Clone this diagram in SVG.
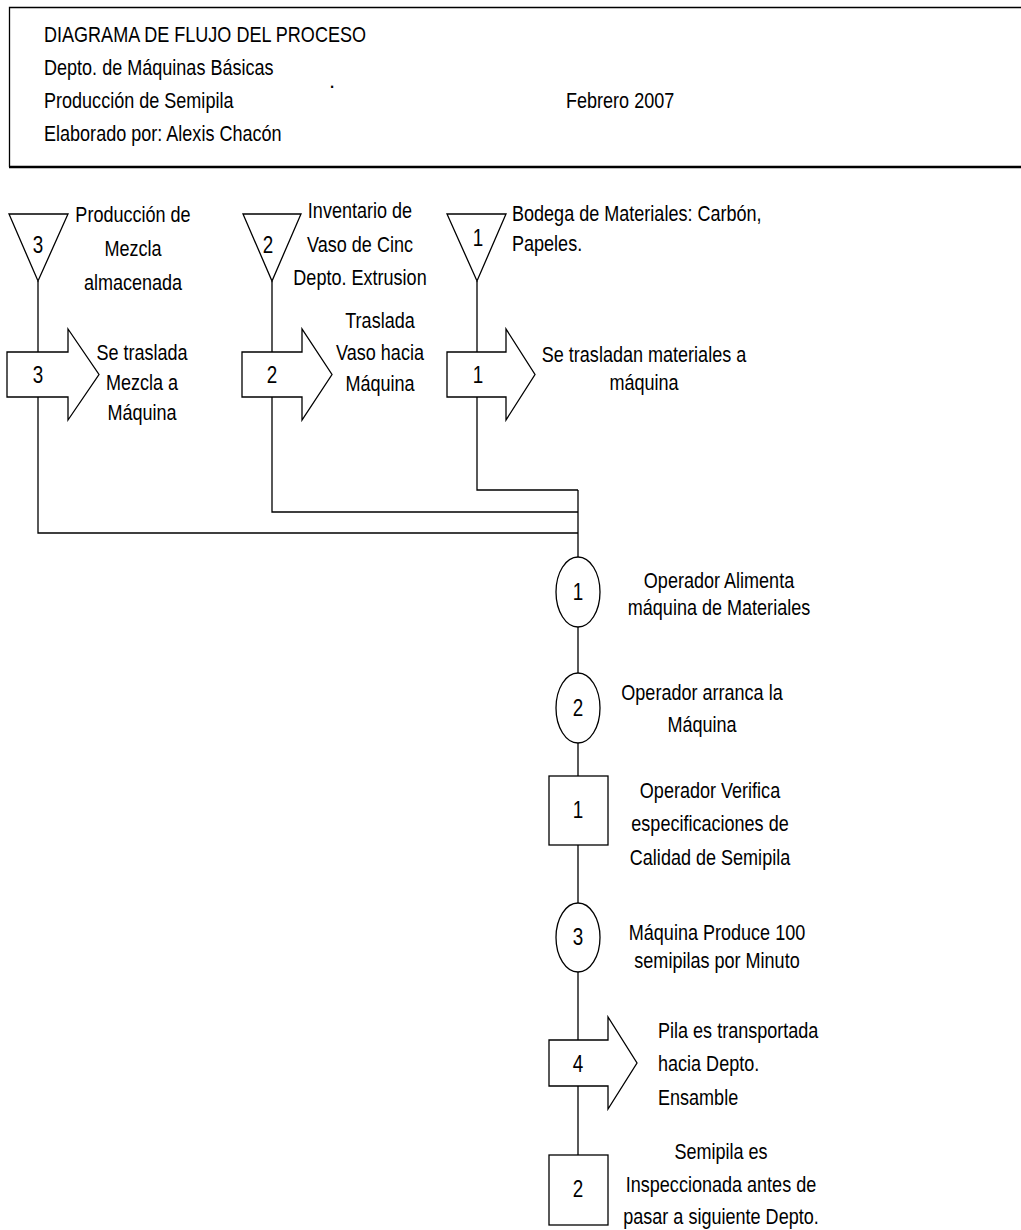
<svg xmlns="http://www.w3.org/2000/svg" width="1021" height="1230" viewBox="0 0 1021 1230">
<style>
.s{fill:#fff;stroke:#000;stroke-width:1.3}
.c{fill:none;stroke:#000;stroke-width:1.3}
text{font-family:"Liberation Sans",Arial,sans-serif;font-size:22px;fill:#000}
.m{text-anchor:middle}
.n{text-anchor:middle;font-size:23px}
</style>
<rect width="1021" height="1230" fill="#fff"/>
<g id="header">
<path class="c" d="M1030,7.5 H9.5 V167"/>
<line x1="9" y1="167" x2="1030" y2="167" stroke="#000" stroke-width="2.5"/>
<text transform="translate(44,42) scale(.82,1)">DIAGRAMA DE FLUJO DEL PROCESO</text>
<text transform="translate(44,75) scale(.82,1)">Depto. de Máquinas Básicas</text>
<text x="329" y="88" font-size="12">.</text>
<text transform="translate(44,108) scale(.82,1)">Producción de Semipila</text>
<text transform="translate(566,108) scale(.82,1)">Febrero 2007</text>
<text transform="translate(44,141) scale(.82,1)">Elaborado por: Alexis Chacón</text>
</g>
<g id="connectors">
<path class="c" d="M38,281 V352 M38,397 V533 H578"/>
<path class="c" d="M272,281 V352 M272,397 V512 H578"/>
<path class="c" d="M477,281 V352 M477,397 V490 H578"/>
<path class="c" d="M578,490 V557 M578,627 V673 M578,743 V776 M578,845 V903 M578,972 V1040 M578,1086 V1155"/>
</g>
<g id="storage3">
<polygon class="s" points="9,214 68,214 38,281"/>
<text class="n" transform="translate(38,253) scale(.82,1)" font-size="25">3</text>
<text class="m" transform="translate(133,222) scale(.82,1)">Producción de</text>
<text class="m" transform="translate(133,256) scale(.82,1)">Mezcla</text>
<text class="m" transform="translate(133,290) scale(.82,1)">almacenada</text>
</g>
<g id="storage2">
<polygon class="s" points="243,214 301,214 272,281"/>
<text class="n" transform="translate(268,253) scale(.82,1)" font-size="25">2</text>
<text class="m" transform="translate(360,218) scale(.82,1)">Inventario de</text>
<text class="m" transform="translate(360,252) scale(.82,1)">Vaso de Cinc</text>
<text class="m" transform="translate(360,285) scale(.82,1)">Depto. Extrusion</text>
</g>
<g id="storage1">
<polygon class="s" points="447,214 506,214 477,281"/>
<text class="n" transform="translate(478,246) scale(.82,1)" font-size="25">1</text>
<text transform="translate(512,221) scale(.82,1)">Bodega de Materiales: Carbón,</text>
<text transform="translate(512,251) scale(.82,1)">Papeles.</text>
</g>
<g id="transport3">
<polygon class="s" points="7,352 68,352 68,329 99,374.5 68,420 68,397 7,397"/>
<text class="n" transform="translate(38,383) scale(.82,1)">3</text>
<text class="m" transform="translate(142,360) scale(.82,1)">Se traslada</text>
<text class="m" transform="translate(142,390) scale(.82,1)">Mezcla a</text>
<text class="m" transform="translate(142,420) scale(.82,1)">Máquina</text>
</g>
<g id="transport2">
<polygon class="s" points="242,352 302,352 302,329 332,374.5 302,420 302,397 242,397"/>
<text class="n" transform="translate(272,383) scale(.82,1)">2</text>
<text class="m" transform="translate(380,328) scale(.82,1)">Traslada</text>
<text class="m" transform="translate(380,360) scale(.82,1)">Vaso hacia</text>
<text class="m" transform="translate(380,391) scale(.82,1)">Máquina</text>
</g>
<g id="transport1">
<polygon class="s" points="447,352 506,352 506,329 535,374.5 506,420 506,397 447,397"/>
<text class="n" transform="translate(478,383) scale(.82,1)">1</text>
<text class="m" transform="translate(644,362) scale(.82,1)">Se trasladan materiales a</text>
<text class="m" transform="translate(644,390) scale(.82,1)">máquina</text>
</g>
<g id="operation1">
<ellipse class="s" cx="578" cy="592" rx="22" ry="35"/>
<text class="n" transform="translate(578,600) scale(.82,1)">1</text>
<text class="m" transform="translate(719,588) scale(.82,1)">Operador Alimenta</text>
<text class="m" transform="translate(719,615) scale(.82,1)">máquina de Materiales</text>
</g>
<g id="operation2">
<ellipse class="s" cx="578" cy="708" rx="22" ry="35"/>
<text class="n" transform="translate(578,716) scale(.82,1)">2</text>
<text class="m" transform="translate(702,700) scale(.82,1)">Operador arranca la</text>
<text class="m" transform="translate(702,732) scale(.82,1)">Máquina</text>
</g>
<g id="inspection1">
<rect class="s" x="549" y="776" width="59" height="69"/>
<text class="n" transform="translate(578,818) scale(.82,1)">1</text>
<text class="m" transform="translate(710,798) scale(.82,1)">Operador Verifica</text>
<text class="m" transform="translate(710,831) scale(.82,1)">especificaciones de</text>
<text class="m" transform="translate(710,865) scale(.82,1)">Calidad de Semipila</text>
</g>
<g id="operation3">
<ellipse class="s" cx="578" cy="937.5" rx="22" ry="34.5"/>
<text class="n" transform="translate(578,945) scale(.82,1)">3</text>
<text class="m" transform="translate(717,940) scale(.82,1)">Máquina Produce 100</text>
<text class="m" transform="translate(717,968) scale(.82,1)">semipilas por Minuto</text>
</g>
<g id="transport4">
<polygon class="s" points="549,1040 608,1040 608,1017 637,1063 608,1109 608,1086 549,1086"/>
<text class="n" transform="translate(578,1072) scale(.82,1)">4</text>
<text transform="translate(658,1038) scale(.82,1)">Pila es transportada</text>
<text transform="translate(658,1071) scale(.82,1)">hacia Depto.</text>
<text transform="translate(658,1105) scale(.82,1)">Ensamble</text>
</g>
<g id="inspection2">
<rect class="s" x="549" y="1155" width="59" height="70"/>
<text class="n" transform="translate(578,1197) scale(.82,1)">2</text>
<text class="m" transform="translate(721,1159) scale(.82,1)">Semipila es</text>
<text class="m" transform="translate(721,1192) scale(.82,1)">Inspeccionada antes de</text>
<text class="m" transform="translate(721,1224) scale(.82,1)">pasar a siguiente Depto.</text>
</g>
</svg>
